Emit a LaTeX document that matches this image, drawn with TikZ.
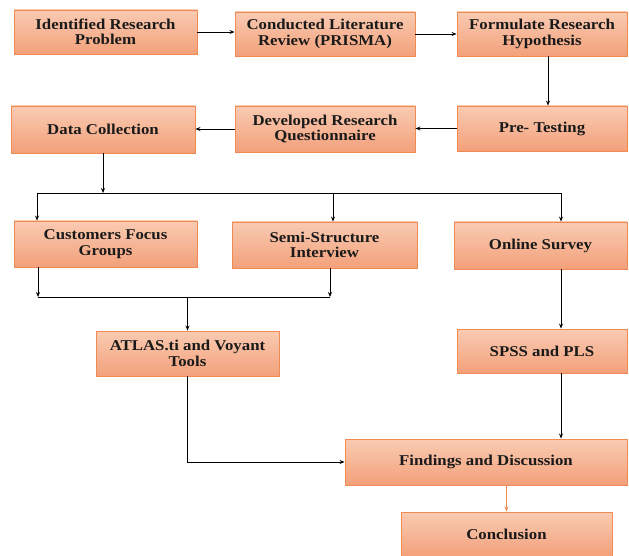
\documentclass[tikz,border=0pt]{standalone}
\usepackage{fontspec}
\setmainfont{Liberation Serif}[FakeStretch=1.12]
\usetikzlibrary{arrows.meta}
\definecolor{boxtop}{HTML}{F9CBB2}
\definecolor{boxbot}{HTML}{F3A07A}
\definecolor{boxline}{HTML}{EE8A52}
\definecolor{txt}{HTML}{1A1A1A}
\tikzset{
  pbox/.style={rectangle, draw=boxline, line width=0.9pt, top color=boxtop, bottom color=boxbot,
    inner sep=0pt, align=center, text=txt, font=\fontsize{15}{15.5}\selectfont\bfseries},
  arr/.style={draw=black, line width=0.8pt, -{Stealth[length=5pt,width=4pt]}},
  ln/.style={draw=black, line width=0.8pt},
}
\begin{document}
\begin{tikzpicture}[x=1pt,y=-1pt]
\useasboundingbox[fill=white] (0,0) rectangle (629,556);
\node[pbox, minimum width=183, minimum height=44] (A) at (105.5,32) {Identified Research\\Problem};
\node[pbox, minimum width=180, minimum height=44] (B) at (325,34) {Conducted Literature\\Review (PRISMA)};
\node[pbox, minimum width=170, minimum height=44] (C) at (542,34) {Formulate Research\\Hypothesis};
\node[pbox, minimum width=184, minimum height=47] (D) at (103,129.5) {Data Collection};
\node[pbox, minimum width=180, minimum height=46] (E) at (325,129) {Developed Research\\Questionnaire};
\node[pbox, minimum width=170, minimum height=45] (F) at (542,128.5) {Pre- Testing};
\node[pbox, minimum width=183, minimum height=46] (G) at (105.5,244) {Customers Focus\\Groups};
\node[pbox, minimum width=185, minimum height=46] (H) at (324.5,245) {Semi-Structure\\Interview};
\node[pbox, minimum width=173, minimum height=47] (I) at (540.5,245.5) {Online Survey};
\node[pbox, minimum width=183, minimum height=45] (J) at (187.5,353.5) {ATLAS.ti and Voyant\\Tools};
\node[pbox, minimum width=170, minimum height=44] (K) at (542,351) {SPSS and PLS};
\node[pbox, minimum width=282, minimum height=46] (L) at (486,462) {Findings and Discussion};
\node[pbox, minimum width=211, minimum height=45] (M) at (506.5,534.5) {Conclusion};

\coordinate (b1) at (37,193);
\coordinate (b2) at (333,193);
\coordinate (b3) at (561,193);
\coordinate (m1) at (38,297);
\coordinate (m2) at (330,297);

\draw[arr] (A.east) -- (A.east -| B.west);
\draw[arr] (B.east) -- (B.east -| C.west);
\draw[arr] ([xshift=6pt]C.south) -- ([xshift=6pt]F.north);
\draw[arr] (F.west) -- (F.west -| E.east);
\draw[arr] (E.west) -- (E.west -| D.east);
\draw[arr] (D.south) -- (D.south |- b1);
\draw[ln] (b1) -- (b3);
\draw[arr] (b1) -- (b1 |- G.north);
\draw[arr] (b2) -- (b2 |- H.north);
\draw[arr] (b3) -- (b3 |- I.north);
\draw[arr] (m1 |- G.south) -- (m1);
\draw[arr] (m2 |- H.south) -- (m2);
\draw[ln] (m1) -- (m2);
\draw[arr] (J.north |- m1) -- (J.north);
\draw[arr] (b3 |- I.south) -- (b3 |- K.north);
\draw[arr] (J.south) |- (L.west);
\draw[arr] (b3 |- K.south) -- (b3 |- L.north);
\draw[arr, draw=boxline] (L.south -| M.north) -- (M.north);
\end{tikzpicture}
\end{document}
